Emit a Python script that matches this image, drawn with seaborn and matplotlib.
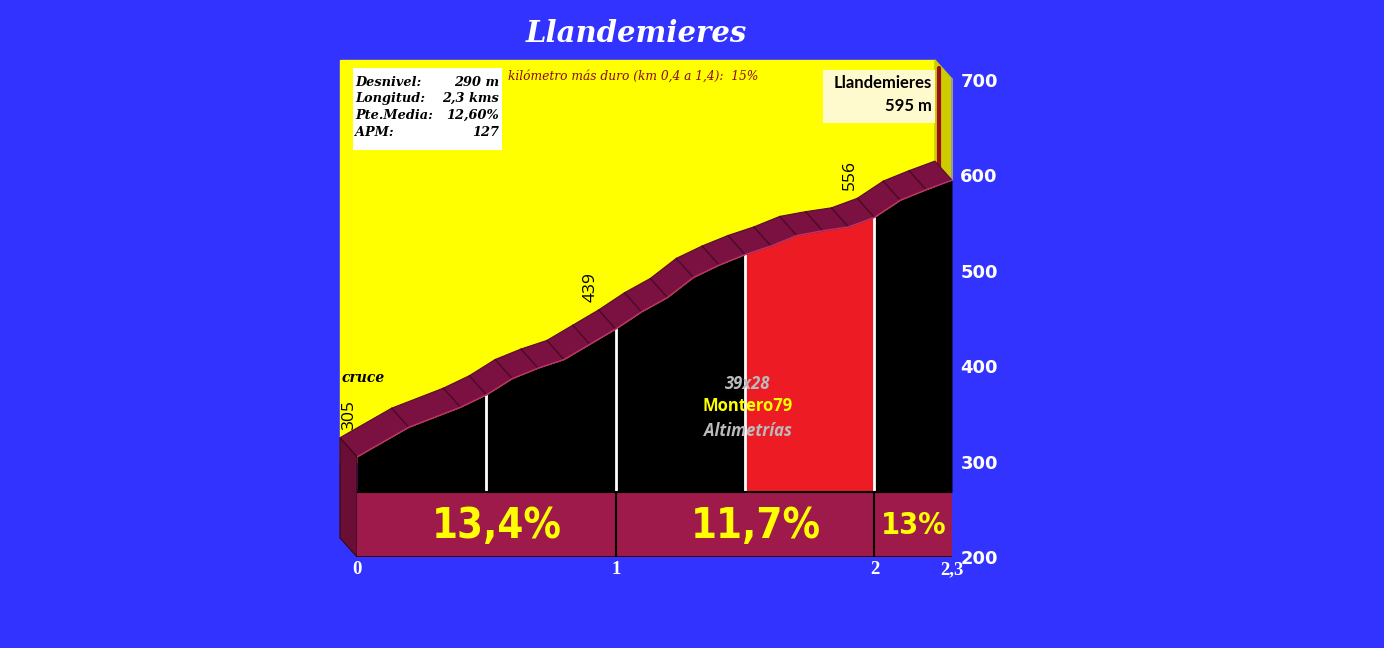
import matplotlib
matplotlib.use('Agg')
import matplotlib.pyplot as plt
from matplotlib.patches import Rectangle, Polygon
import seaborn as sns
import pandas as pd
import numpy as np

# profile data (km, metres)
km = [0, 0.2, 0.4, 0.5, 0.6, 0.7, 0.8, 0.9, 1.0, 1.1, 1.2, 1.3, 1.4,
      1.5, 1.6, 1.7, 1.8, 1.9, 2.0, 2.1, 2.2, 2.3]
elev = [305, 336, 357, 370, 387, 398, 407, 423, 439, 457, 472, 493, 506,
        517, 526, 537, 542, 546, 556, 574, 585, 595]

# sections along the bottom band
sec_start = [0, 1, 2]
sec_end = [1, 2, 2.3]
sec_labels = ['13,4%', '11,7%', '13%']

# half-km marks and the hardest stretch in red
mark_km = [0.5, 1.0, 1.5, 2.0]
red_from, red_to = 1.5, 2.0

# labelled points
label_km = [0, 1, 2]
label_txt = ['305', '439', '556']

x_ticks = [0, 1, 2, 2.3]
x_tick_labels = ['0', '1', '2', '2,3']
y_ticks = [200, 300, 400, 500, 600, 700]

title = 'Llandemieres'
info_names = ['Desnivel:', 'Longitud:', 'Pte.Media:', 'APM:']
info_values = ['290 m', '2,3 kms', '12,60%', '127']
hard_km_text = 'kilómetro más duro (km 0,4 a 1,4):  15%'
summit_name = 'Llandemieres'
summit_elev = '595 m'

df = pd.DataFrame({'km': km, 'elev': elev})

BLUE = '#3333FF'
YELLOW = '#FFFF00'
RIBBON = '#7A1140'
BAND = '#9E1A4A'
SIDE = '#6A0E36'
RED = '#ED1C24'
BASE = 268          # top of the percent band
DX, DZ = -0.066, 20  # 3d depth offset

sns.set_theme(style='white')
fig = plt.figure(figsize=(13.84, 6.48), dpi=100, facecolor=BLUE)
ax = fig.add_axes([357 / 1384, 91 / 648, 595 / 1384, 477 / 648])
ax.set_xlim(0, 2.3)
ax.set_ylim(200, 700)
ax.patch.set_alpha(0)
for s in ax.spines.values():
    s.set_visible(False)

# yellow backdrop and right wall
ax.add_patch(Rectangle((DX, 300), 2.3, 721 - 300, color=YELLOW, zorder=0, clip_on=False))
ax.add_patch(Polygon([(2.3 + DX, 721), (2.3, 701), (2.3, 595), (2.3 + DX, 615)],
                     closed=True, color='#CCCC00', zorder=1, clip_on=False))
ax.plot([2.3, 2.3], [595, 701], color='#999999', lw=1.5, zorder=1, clip_on=False)
ax.plot([2.25, 2.25], [606, 713], color='#9B0E1E', lw=3, zorder=2, clip_on=False)

# black profile and red stretch
ax.fill_between(df['km'], BASE, df['elev'], color='black', zorder=2, lw=0)
red = df[(df['km'] >= red_from) & (df['km'] <= red_to)]
ax.fill_between(red['km'], BASE, red['elev'], color=RED, zorder=3, lw=0)
for k in mark_km:
    e = np.interp(k, km, elev)
    ax.plot([k, k], [BASE, e], color='white', lw=2, zorder=4)

# 3d ribbon on top of the profile
top = list(zip(df['km'] + DX, df['elev'] + DZ))
bottom = list(zip(df['km'], df['elev']))
ax.add_patch(Polygon(bottom + top[::-1], closed=True, facecolor=RIBBON,
                     edgecolor='#5a0c2e', lw=0.8, zorder=5, clip_on=False))
for k, e in zip(km[1:-1], elev[1:-1]):
    ax.plot([k, k + DX], [e, e + DZ], color='#4a0a26', lw=1, zorder=6, clip_on=False)
sns.lineplot(data=df, x='km', y='elev', ax=ax, color='#C2306A', lw=1, zorder=6)

# left side wall
ax.add_patch(Polygon([(DX, 305 + DZ), (0, 305), (0, 200), (DX, 200 + DZ)], closed=True,
                     facecolor=SIDE, edgecolor='#3a0618', lw=0.8, zorder=5, clip_on=False))

# percent band
ax.add_patch(Rectangle((0, 200), 2.3, BASE - 200, facecolor=BAND, edgecolor='none', zorder=5))
ax.plot([0, 2.3], [BASE, BASE], color='black', lw=1.5, zorder=6)
ax.plot([0, 2.3], [200, 200], color='#3a0618', lw=1.5, zorder=6)
for s0, s1, lab in zip(sec_start, sec_end, sec_labels):
    if s0 > 0:
        ax.plot([s0, s0], [200, BASE], color='black', lw=1.5, zorder=6)
    ax.text((s0 + s1) / 2 + (0.04 if s1 - s0 == 1 else 0), 233, lab, color=YELLOW,
            fontsize=30 if s1 - s0 == 1 else 22, fontweight='bold', fontstretch='condensed',
            family='DejaVu Sans', ha='center', va='center', zorder=7)

# elevation labels
for k, t in zip(label_km, label_txt):
    e = np.interp(k, km, elev)
    ax.text(max(k - 0.095, -0.031), e + 44, t, rotation=90, ha='center', va='center',
            fontsize=12.5, color='black', family='Open Sans', zorder=7, clip_on=False)
ax.text(-0.058, 388, 'cruce', fontsize=10, fontstyle='italic', fontweight='bold',
        family='DejaVu Serif', color='black', ha='left', va='center', zorder=7, clip_on=False)

# ticks
ax.yaxis.tick_right()
ax.set_yticks(y_ticks)
ax.set_yticklabels([str(v) for v in y_ticks], color='white', fontweight='bold',
                   fontsize=13, family='DejaVu Sans')
ax.set_xticks(x_ticks)
ax.set_xticklabels(x_tick_labels, color='white', fontweight='bold', fontsize=13.5,
                   family='Liberation Serif')
ax.tick_params(axis='y', length=0, pad=6)
ax.tick_params(axis='x', length=0, pad=3)
ax.set_xlabel('')
ax.set_ylabel('')

# texts placed on the figure (pixel positions)
def fx(px):
    return px / 1384

def fy(py):
    return 1 - py / 648

fig.text(fx(636), fy(34), title, color='white', fontsize=21, fontstyle='italic',
         fontweight='bold', family='DejaVu Serif', ha='center', va='center')

fig.patches.append(Rectangle((fx(353), fy(150)), fx(149), 82 / 648, facecolor='white',
                             edgecolor='none', transform=fig.transFigure, figure=fig))
for i, (n, v) in enumerate(zip(info_names, info_values)):
    y = fy(82 + i * 16.7)
    fig.text(fx(355), y, n, fontsize=9.3, fontstyle='italic', fontweight='bold',
             family='DejaVu Serif', color='black', va='center', ha='left')
    fig.text(fx(499), y, v, fontsize=9.3, fontstyle='italic', fontweight='bold',
             family='DejaVu Serif', color='black', va='center', ha='right')
fig.text(fx(508), fy(76), hard_km_text, fontsize=8.8, fontstyle='italic',
         family='DejaVu Serif', color='#8B0A1E', va='center', ha='left')

fig.patches.append(Rectangle((fx(823), fy(123)), fx(112), 53 / 648, facecolor='#FFFACD',
                             edgecolor='none', transform=fig.transFigure, figure=fig))
fig.text(fx(932), fy(83), summit_name, fontsize=12, fontweight='bold', family='Lato',
         color='black', ha='right', va='center')
fig.text(fx(932), fy(106), summit_elev, fontsize=12, fontweight='bold', family='Lato',
         color='black', ha='right', va='center')

fig.text(fx(748), fy(384), '39x28', fontsize=12, fontstyle='italic', fontweight='bold',
         family='Open Sans', color='#BBBBBB', ha='center', va='center')
fig.text(fx(748), fy(406), 'Montero79', fontsize=12, fontweight='bold',
         family='Open Sans', color=YELLOW, ha='center', va='center')
fig.text(fx(748), fy(431), 'Altimetrías', fontsize=12, fontstyle='italic', fontweight='bold',
         family='Open Sans', color='#BBBBBB', ha='center', va='center')

plt.savefig('out.png', dpi=100, facecolor=BLUE)
